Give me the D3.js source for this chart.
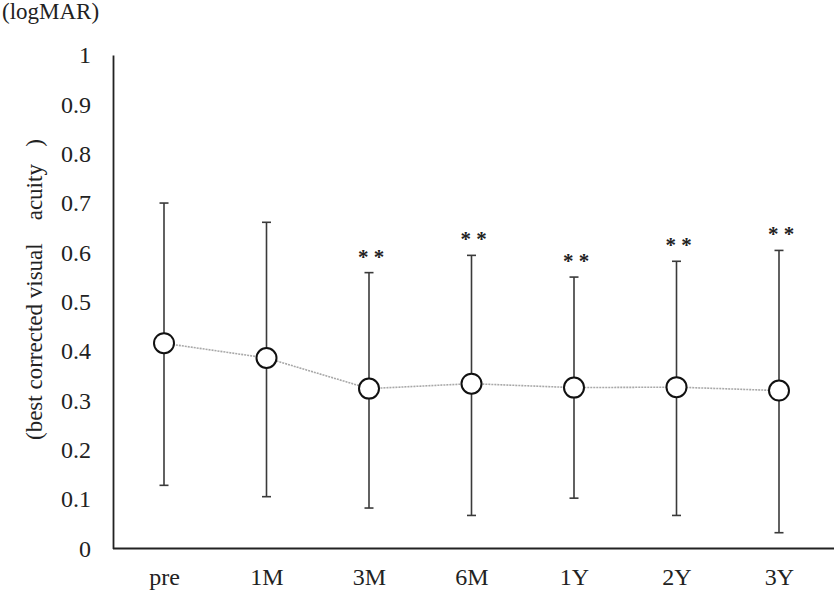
<!DOCTYPE html>
<html>
<head>
<meta charset="utf-8">
<script src="https://cdn.jsdelivr.net/npm/d3@7"></script>
<style>
  html, body { margin: 0; padding: 0; background: #fff; }
  svg { display: block; }
  text { font-family: "Liberation Serif", "Times New Roman", serif; fill: #222; }
</style>
</head>
<body>
<svg id="chart" width="834" height="592"></svg>
<script>
// ---- data ----
const categories = ["pre", "1M", "3M", "6M", "1Y", "2Y", "3Y"];
const means = [0.416, 0.386, 0.324, 0.334, 0.326, 0.327, 0.320];
const upper = [0.700, 0.661, 0.559, 0.594, 0.550, 0.582, 0.604];
const lower = [0.128, 0.105, 0.082, 0.067, 0.102, 0.067, 0.032];
const significance = ["", "", "**", "**", "**", "**", "**"];
const yTicks = [0, 0.1, 0.2, 0.3, 0.4, 0.5, 0.6, 0.7, 0.8, 0.9, 1];
const yUnit = "(logMAR)";
const yTitle = "(best corrected visual\u00a0\u00a0\u00a0\u00a0acuity\u00a0\u00a0\u00a0)";

const rows = categories.map((c, i) => ({ c, m: means[i], hi: upper[i], lo: lower[i], s: significance[i] }));

const svg = d3.select("#chart");
const plotLeft = 113, plotRight = 834, plotTop = 55, plotBottom = 548.5;

const x = d3.scalePoint().domain(categories).range([112.75, 830.25]).padding(0.5);
const y = d3.scaleLinear().domain([0, 1]).range([plotBottom, plotTop]);

// y axis
const yAxis = svg.append("g")
  .attr("transform", `translate(${plotLeft},0)`)
  .call(d3.axisLeft(y).tickValues(yTicks).tickSize(0).tickPadding(22)
    .tickFormat(d => String(+d.toFixed(1))));
yAxis.select(".domain").attr("stroke", "#222").attr("stroke-width", 1.8);
yAxis.selectAll("text").attr("font-size", 24).attr("font-family", "Liberation Serif").attr("fill", "#222");

// x axis
const xAxis = svg.append("g")
  .attr("transform", `translate(0,${plotBottom})`)
  .call(d3.axisBottom(x).tickSize(0).tickPadding(19.5));
xAxis.select(".domain").remove();
xAxis.append("line").attr("x1", plotLeft).attr("x2", plotRight).attr("y1", 0).attr("y2", 0)
  .attr("stroke", "#222").attr("stroke-width", 2);
xAxis.selectAll("text").attr("font-size", 24).attr("font-family", "Liberation Serif").attr("fill", "#222");

// error bars
const eb = svg.append("g").attr("stroke", "#3a3a3a").attr("stroke-width", 1.6);
eb.selectAll("line.v").data(rows).join("line").attr("class", "v")
  .attr("x1", d => x(d.c)).attr("x2", d => x(d.c))
  .attr("y1", d => y(d.hi)).attr("y2", d => y(d.lo));
eb.selectAll("line.t").data(rows).join("line").attr("class", "t")
  .attr("x1", d => x(d.c) - 4.5).attr("x2", d => x(d.c) + 4.5)
  .attr("y1", d => y(d.hi)).attr("y2", d => y(d.hi));
eb.selectAll("line.b").data(rows).join("line").attr("class", "b")
  .attr("x1", d => x(d.c) - 4.5).attr("x2", d => x(d.c) + 4.5)
  .attr("y1", d => y(d.lo)).attr("y2", d => y(d.lo));

// mean line
svg.append("path").datum(rows)
  .attr("fill", "none").attr("stroke", "#a8a8a8").attr("stroke-width", 1.6)
  .attr("stroke-dasharray", "2,1")
  .attr("d", d3.line().x(d => x(d.c)).y(d => y(d.m)));

// markers
svg.append("g").selectAll("circle").data(rows).join("circle")
  .attr("cx", d => x(d.c)).attr("cy", d => y(d.m)).attr("r", 10)
  .attr("fill", "#fff").attr("stroke", "#111").attr("stroke-width", 2);

// significance marks
svg.append("g").selectAll("text").data(rows.filter(d => d.s)).join("text")
  .attr("x", d => x(d.c) + 2).attr("y", d => y(d.hi) - 9)
  .attr("text-anchor", "middle").attr("font-size", 21).attr("font-weight", "bold")
  .style("white-space", "pre")
  .text(d => d.s.split("").join(" "));

// unit label
svg.append("text").attr("x", 2).attr("y", 19).attr("font-size", 23).text(yUnit);

// y title
svg.append("text")
  .attr("transform", "translate(42,440) rotate(-90)")
  .attr("text-anchor", "start").attr("font-size", 23)
  .style("white-space", "pre")
  .text(yTitle);
</script>
</body>
</html>
